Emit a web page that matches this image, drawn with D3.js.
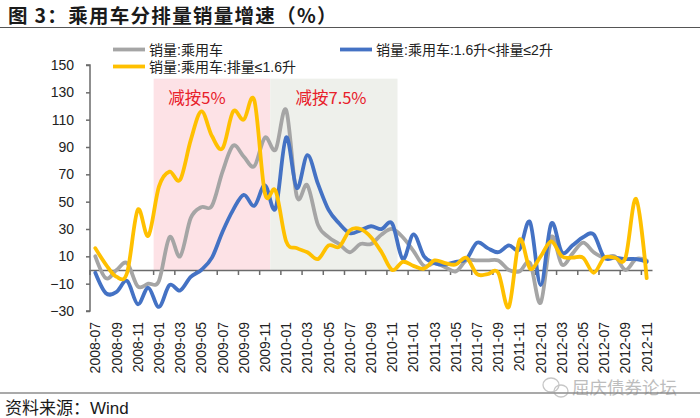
<!DOCTYPE html>
<html><head><meta charset="utf-8">
<script src="https://cdn.jsdelivr.net/npm/d3@7/dist/d3.min.js"></script>
<style>body{margin:0;background:#fff}svg{display:block}</style>
</head><body>
<svg id="chart" width="700" height="418"></svg>
<script>
const months = ["2008-07","2008-08","2008-09","2008-10","2008-11","2008-12",
"2009-01","2009-02","2009-03","2009-04","2009-05","2009-06","2009-07","2009-08","2009-09","2009-10","2009-11","2009-12",
"2010-01","2010-02","2010-03","2010-04","2010-05","2010-06","2010-07","2010-08","2010-09","2010-10","2010-11","2010-12",
"2011-01","2011-02","2011-03","2011-04","2011-05","2011-06","2011-07","2011-08","2011-09","2011-10","2011-11","2011-12",
"2012-01","2012-02","2012-03","2012-04","2012-05","2012-06","2012-07","2012-08","2012-09","2012-10","2012-11"];

const salesAll = [10,-6,0,5,-12,-10,
-8,24,10,38,46,47,72,91,83,76,97,88,
117,54,62,33,24,19,13,19,19,26,30,24,
14,3,5,2,-1,7,7,7,7,0,-1,5,
-24,24,4,12,20,13,9,10,0,8,7];

const salesMid = [-2,-17,-16,-8,-25,-13,
-27,-11,-15,-5,0,9,28,44,55,47,62,45,
97,60,84,63,44,34,27,29,32,30,34,8,
26,10,5,4,6,8,20,16,13,18,15,35,
-11,34,13,18,24,26,9,9,8,8,6];

const salesSmall = [16,4,-5,-2,44,25,
61,72,66,95,116,98,89,116,110,124,56,58,
21,16,13,8,18,17,29,30,24,13,0,6,
3,1,7,5,4,9,-3,-3,-2,-27,22,1,
10,21,10,9,9,-2,9,9,9,52,-6];

const yTicks = [-30,-10,10,30,50,70,90,110,130,150];
const periodLabels = ["减按5%","减按7.5%"];
const periodStart = ["2009-01","2009-12"];
const periodEnd = ["2009-12","2010-12"];
const periodColors = ["#fde2e6","#eef0eb"];

const seriesNames = ["销量:乘用车","销量:乘用车:1.6升<排量≤2升","销量:乘用车:排量≤1.6升"];
const seriesColors = ["#a5a5a5","#4472c4","#ffc000"];
const seriesData = [salesAll, salesMid, salesSmall];

const svg = d3.select("#chart");
const cjk = "'Noto Sans CJK SC','Noto Sans',sans-serif";
const latin = "'Liberation Sans',Arial,sans-serif";
const mixed = "'Liberation Sans','Noto Sans CJK SC',sans-serif";

const x = d3.scaleBand().domain(months).range([90, 652]).padding(0);
const y = d3.scaleLinear().domain([-30, 150]).range([311, 65]);
const xc = m => x(m) + x.bandwidth()/2;

// title
svg.append("text").attr("x", 8).attr("y", 23)
  .attr("font-family", cjk).attr("font-weight", 700).attr("font-size", 19.5)
  .attr("letter-spacing", 1.3).attr("fill", "#1a1a1a")
  .text("图 3：乘用车分排量销量增速（%）");
svg.append("line").attr("x1", 0).attr("x2", 700).attr("y1", 27.5).attr("y2", 27.5)
  .attr("stroke", "#555").attr("stroke-width", 1.2);

// shaded periods
periodLabels.forEach((lab, k) => {
  svg.append("rect")
    .attr("x", x(periodStart[k])).attr("width", x(periodEnd[k]) - x(periodStart[k]))
    .attr("y", y(140)).attr("height", y(0) - y(140))
    .attr("fill", periodColors[k]);
});
const labelX = ["2009-02","2010-02"];
periodLabels.forEach((lab, k) => {
  svg.append("text").attr("x", x(labelX[k]) + 4).attr("y", 104)
    .attr("font-family", cjk).attr("font-size", 16.5).attr("fill", "#e8202a")
    .text(lab);
});

// y axis
const yAxis = d3.axisLeft(y).tickValues(yTicks).tickSize(4).tickPadding(12);
const gy = svg.append("g").attr("transform", "translate(90,0)").call(yAxis);
gy.select(".domain").attr("stroke", "#6b6b6b").attr("stroke-width", 1.5).attr("d", "M-4,65H0V311H-4");
gy.selectAll(".tick line").attr("stroke", "#6b6b6b").attr("stroke-width", 1.5);
gy.selectAll(".tick text").attr("font-family", latin).attr("font-size", 14).attr("fill", "#222");

// x axis line at 0
const tickMonths = months.filter((m, i) => i % 2 === 0);
const xAxis = d3.axisBottom(x).tickValues(tickMonths).tickSize(0).tickFormat("");
const gx = svg.append("g").attr("transform", `translate(0,${y(0)})`).call(xAxis);
gx.select(".domain").attr("stroke", "#6b6b6b").attr("stroke-width", 1.5);
gx.selectAll(".tick").remove();
svg.append("g").selectAll("line").data(tickMonths).join("line")
  .attr("x1", d => x(d)).attr("x2", d => x(d))
  .attr("y1", y(0)).attr("y2", y(0) + 5)
  .attr("stroke", "#6b6b6b").attr("stroke-width", 1.5);
svg.append("g").selectAll("text").data(tickMonths).join("text")
  .attr("transform", d => `translate(${xc(d)},322) rotate(-90)`)
  .attr("text-anchor", "end").attr("dominant-baseline", "central")
  .attr("font-family", latin).attr("font-size", 14).attr("fill", "#222")
  .text(d => d);

// lines
const line = d3.line().x((d, i) => xc(months[i])).y(d => y(d)).curve(d3.curveCardinal.tension(0));
seriesData.forEach((arr, k) => {
  svg.append("path").datum(arr).attr("d", line)
    .attr("fill", "none").attr("stroke", seriesColors[k]).attr("stroke-width", 3.8)
    .attr("stroke-linejoin", "round").attr("stroke-linecap", "round");
});

// legend
const legPos = [[113, 49.5], [340, 49.5], [113, 66.5]];
seriesNames.forEach((nm, k) => {
  const [lx, ly] = legPos[k];
  svg.append("line").attr("x1", lx).attr("x2", lx + 32).attr("y1", ly).attr("y2", ly)
    .attr("stroke", seriesColors[k]).attr("stroke-width", 3.8);
  svg.append("text").attr("x", lx + 36).attr("y", ly + 5)
    .attr("font-family", mixed).attr("font-size", 14).attr("fill", "#222").text(nm);
});

// footer
svg.append("line").attr("x1", 0).attr("x2", 700).attr("y1", 393).attr("y2", 393)
  .attr("stroke", "#555").attr("stroke-width", 1.2);
const src = svg.append("text").attr("x", 5).attr("y", 414)
  .attr("font-family", cjk).attr("font-size", 17).attr("fill", "#1a1a1a");
src.append("tspan").text("资料来源：");
src.append("tspan").attr("font-family", latin).text("Wind");
// watermark
const wm = svg.append("g").attr("opacity", 0.55);
wm.append("ellipse").attr("cx", 551).attr("cy", 385).attr("rx", 8).attr("ry", 7).attr("fill", "none").attr("stroke", "#999").attr("stroke-width", 1.3);
wm.append("ellipse").attr("cx", 561).attr("cy", 391).attr("rx", 7).attr("ry", 6).attr("fill", "none").attr("stroke", "#999").attr("stroke-width", 1.3);
wm.append("text").attr("x", 572).attr("y", 394)
  .attr("font-family", cjk).attr("font-size", 17.5).attr("fill", "#888").text("屈庆债券论坛");
</script>
</body></html>
